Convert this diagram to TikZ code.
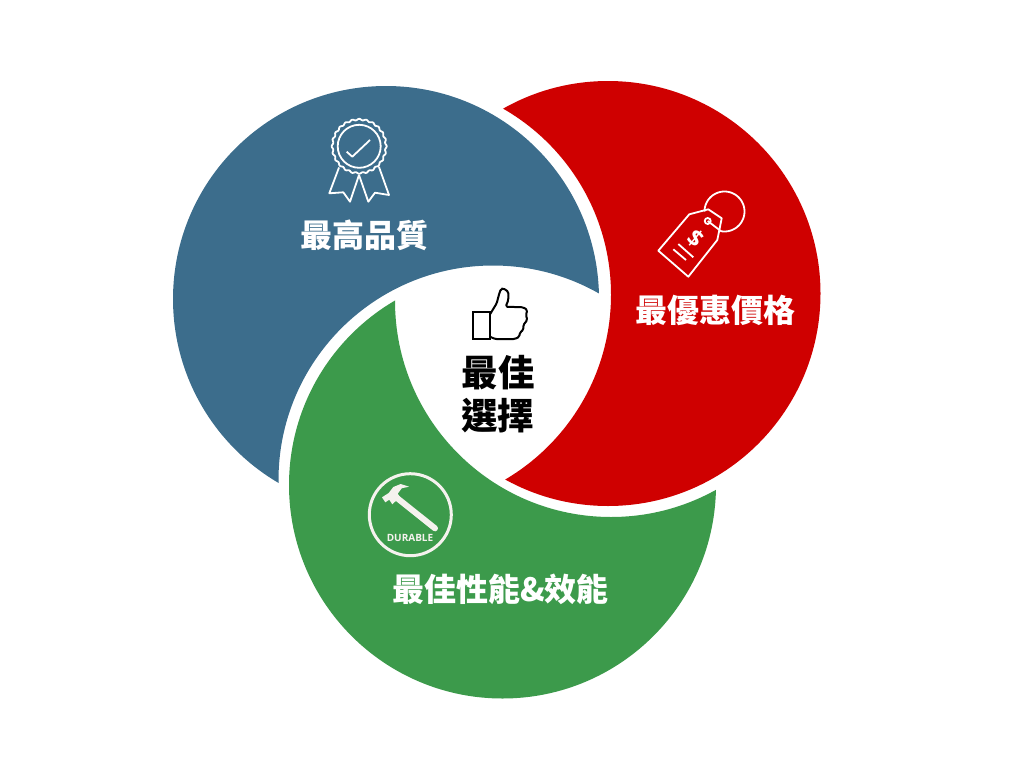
\documentclass[tikz,border=0pt]{standalone}
\usepackage{fontspec}
\newfontfamily\cjk{Noto Sans CJK TC}
\newfontfamily\latin{Open Sans}
\definecolor{petalblue}{RGB}{60,109,140}
\definecolor{petalred}{RGB}{207,0,0}
\definecolor{petalgreen}{RGB}{60,154,75}
\definecolor{offwhite}{RGB}{245,242,238}
\tikzset{
  bigtitle/.style={white,inner sep=0pt,font=\cjk\bfseries\fontsize{32}{32}\selectfont},
  midtitle/.style={black,inner sep=0pt,font=\cjk\bfseries\fontsize{36.5}{37}\selectfont},
  iconline/.style={white,line width=1.8pt,line join=round}
}
\begin{document}
\begin{tikzpicture}[x=1pt,y=-1pt]
        \useasboundingbox (0,0) rectangle (1024,768);

        % Petali
        \begin{scope}
            \clip (1024,0) rectangle (0,768) (493,480) circle (214.5pt);
            \fill[petalblue] (386,299) circle (213pt);
        \end{scope}
        \begin{scope}
            \clip (1024,0) rectangle (0,768) (396.7,294.7) circle (214.3pt);
            \fill[petalred] (608,293.5) circle (212.5pt);
        \end{scope}
        \begin{scope}
            \clip (1024,0) rectangle (0,768) (611,301) circle (216pt);
            \fill[petalgreen] (502.5,485) circle (213.5pt);
        \end{scope}

        % Medaglia
        \draw[iconline,domain=0:360,samples=240,smooth,variable=\t] plot ({359.2+(26.8+0.7*cos(24*\t))*cos(\t)},{146.3+(26.8+0.7*cos(24*\t))*sin(\t)}) -- cycle;
        \draw[iconline] (359.2,146.3) circle (21.5pt);
        \draw[iconline] (346.7,151.7) -- (352.3,156.7) -- (370,140);
        \draw[iconline] (339,167.5) -- (329.3,193.3) -- (343.3,192.3) -- (350,201.7) -- (359,175);
        \draw[iconline] (359,175) -- (368.3,201.7) -- (375,192.7) -- (389,195) -- (379,167);

        % Cartellino del prezzo
        \draw[iconline] (708.3,209.3) -- (689.3,214.3) -- (658.3,250.7) -- (688.3,276.7) -- (717.3,240) -- (721.7,218.3) -- cycle;
        \draw[iconline,domain=180:460,samples=60,smooth,variable=\t] plot ({724.5+20*cos(\t)},{211.5+20*sin(\t)}) -- (707.7,221);
        \draw[iconline] (707.7,221) circle (3pt);
        \draw[iconline] (673.3,249.3) -- (686,260);
        \draw[iconline] (678.3,244) -- (693.3,257.3);
        \node[white,inner sep=0pt,rotate=-40,font=\latin\bfseries\fontsize{23}{23}\selectfont] (dollar) at (695.7,238.3) {\$};

        % Pollice
        \draw[black,line width=2pt] (473.3,312.3) rectangle (490,339);
        \draw[black,line width=2pt,line join=round,rounded corners=1.5pt] (490,314.3) -- (496.7,303.3) -- (499.3,293.3) -- (501,289) -- (503.3,288.3) -- (508.3,291.7) -- (508.3,300) -- (505.7,306.7) -- (523.3,307.3) -- (527.3,310) -- (526,315) -- (527.3,320) -- (523.3,325) -- (523.3,330) -- (520,332.3) -- (519.3,336.7) -- (515,339) -- (495,339) -- (490,336.7);

        % Martello
        \draw[offwhite,line width=3pt] (410.3,514.7) circle (41pt);
        \draw[offwhite,line width=6pt,line cap=round] (397,498) -- (435,528.3);
        \fill[offwhite] (382,497.3) -- (388.7,493) -- (393.3,487) -- (400.7,484) -- (409,486.7) -- (401.7,488.3) -- (397.7,493.7) -- (400,497) -- (392.3,504.3) -- (389.3,499.7) -- (385.3,502.3) -- cycle;
        \node[offwhite,inner sep=0pt,font=\latin\bfseries\fontsize{10}{10}\selectfont] (durable) at (410,538) {DURABLE};

        % Testi
        \node[bigtitle] (quality) at (364.5,235) {最高品質};
        \node[bigtitle] (price) at (715,310) {最優惠價格};
        \node[bigtitle] (perform) at (500.5,589) {最佳性能\&效能};
        \node[midtitle] (best) at (498,373) {最佳};
        \node[midtitle] (choice) at (497.5,416) {選擇};
    \end{tikzpicture}
\end{document}
